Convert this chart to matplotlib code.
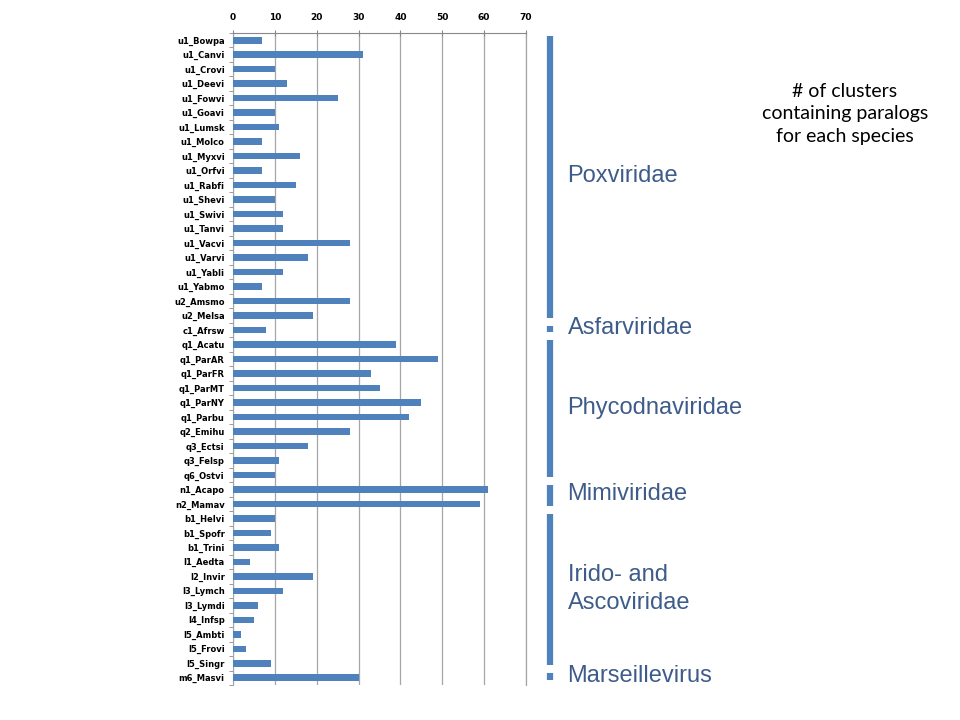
import matplotlib
matplotlib.use("Agg")
import matplotlib.pyplot as plt
import numpy as np
from matplotlib.transforms import blended_transform_factory

species = ["u1_Bowpa", "u1_Canvi", "u1_Crovi", "u1_Deevi", "u1_Fowvi", "u1_Goavi",
           "u1_Lumsk", "u1_Molco", "u1_Myxvi", "u1_Orfvi", "u1_Rabfi", "u1_Shevi",
           "u1_Swivi", "u1_Tanvi", "u1_Vacvi", "u1_Varvi", "u1_Yabli", "u1_Yabmo",
           "u2_Amsmo", "u2_Melsa", "c1_Afrsw", "q1_Acatu", "q1_ParAR", "q1_ParFR",
           "q1_ParMT", "q1_ParNY", "q1_Parbu", "q2_Emihu", "q3_Ectsi", "q3_Felsp",
           "q6_Ostvi", "n1_Acapo", "n2_Mamav", "b1_Helvi", "b1_Spofr", "b1_Trini",
           "I1_Aedta", "I2_Invir", "I3_Lymch", "I3_Lymdi", "I4_Infsp", "I5_Ambti",
           "I5_Frovi", "I5_Singr", "m6_Masvi"]
clusters = [7, 31, 10, 13, 25, 10, 11, 7, 16, 7, 15, 10, 12, 12, 28, 18, 12, 7,
            28, 19, 8, 39, 49, 33, 35, 45, 42, 28, 18, 11, 10, 61, 59, 10, 9, 11,
            4, 19, 12, 6, 5, 2, 3, 9, 30]
x_ticks = [0, 10, 20, 30, 40, 50, 60, 70]

families = ["Poxviridae", "Asfarviridae", "Phycodnaviridae", "Mimiviridae",
            "Irido- and\nAscoviridae", "Marseillevirus"]
family_first = [0, 20, 21, 31, 33, 44]
family_last = [19, 20, 30, 32, 43, 44]

bar_color = "#4F81BD"
fam_color = "#3E5C8A"

fig = plt.figure(figsize=(9.6, 7.2), dpi=100)
ax = fig.add_axes([233 / 960, 1 - 685 / 720, 293 / 960, (685 - 33) / 720])

n = len(species)
ypos = np.arange(n)
ax.barh(ypos, clusters, height=0.45, color=bar_color, zorder=3)
ax.set_ylim(n - 0.5, -0.5)
ax.set_xlim(0, 70)

ax.xaxis.tick_top()
ax.set_xticks(x_ticks)
ax.set_xticklabels([str(v) for v in x_ticks], fontsize=6.5, fontweight="bold",
                   family="DejaVu Sans")
ax.tick_params(axis="x", direction="inout", length=4, color="#888888", pad=6)

ax.set_yticks(ypos)
ax.set_yticklabels(species, fontsize=6, fontweight="bold", family="DejaVu Sans")
ax.tick_params(axis="y", which="major", length=0, pad=6)
ax.set_yticks(np.arange(-0.5, n, 1.0), minor=True)
ax.tick_params(axis="y", which="minor", length=3, color="#888888", direction="out")

ax.grid(axis="x", color="#A6A6A6", linewidth=0.9, zorder=0)
ax.spines["bottom"].set_visible(False)
ax.spines["right"].set_color("#A6A6A6")
ax.spines["right"].set_linewidth(0.9)
ax.spines["top"].set_color("#888888")
ax.spines["left"].set_color("#A6A6A6")

trans = blended_transform_factory(ax.transAxes, ax.transData)
xb = (550 - 233) / 293
for fam, a, b in zip(families, family_first, family_last):
    y0 = a - 0.5 + 0.2
    y1 = b + 0.5 - 0.35
    ax.plot([xb, xb], [y0, y1], transform=trans, color=bar_color, linewidth=4.5,
            solid_capstyle="butt", clip_on=False)
    ax.text(xb + 0.06, (a + b) / 2 - 0.15, fam, transform=trans, color=fam_color,
            fontsize=17, family="Liberation Sans", va="center", ha="left",
            linespacing=1.34)

fig.text(845 / 960, 1 - 114 / 720, "# of clusters\ncontaining paralogs\nfor each species",
         ha="center", va="center", fontsize=14, family="Lato", linespacing=1.42)

fig.savefig("out.png", dpi=100)
